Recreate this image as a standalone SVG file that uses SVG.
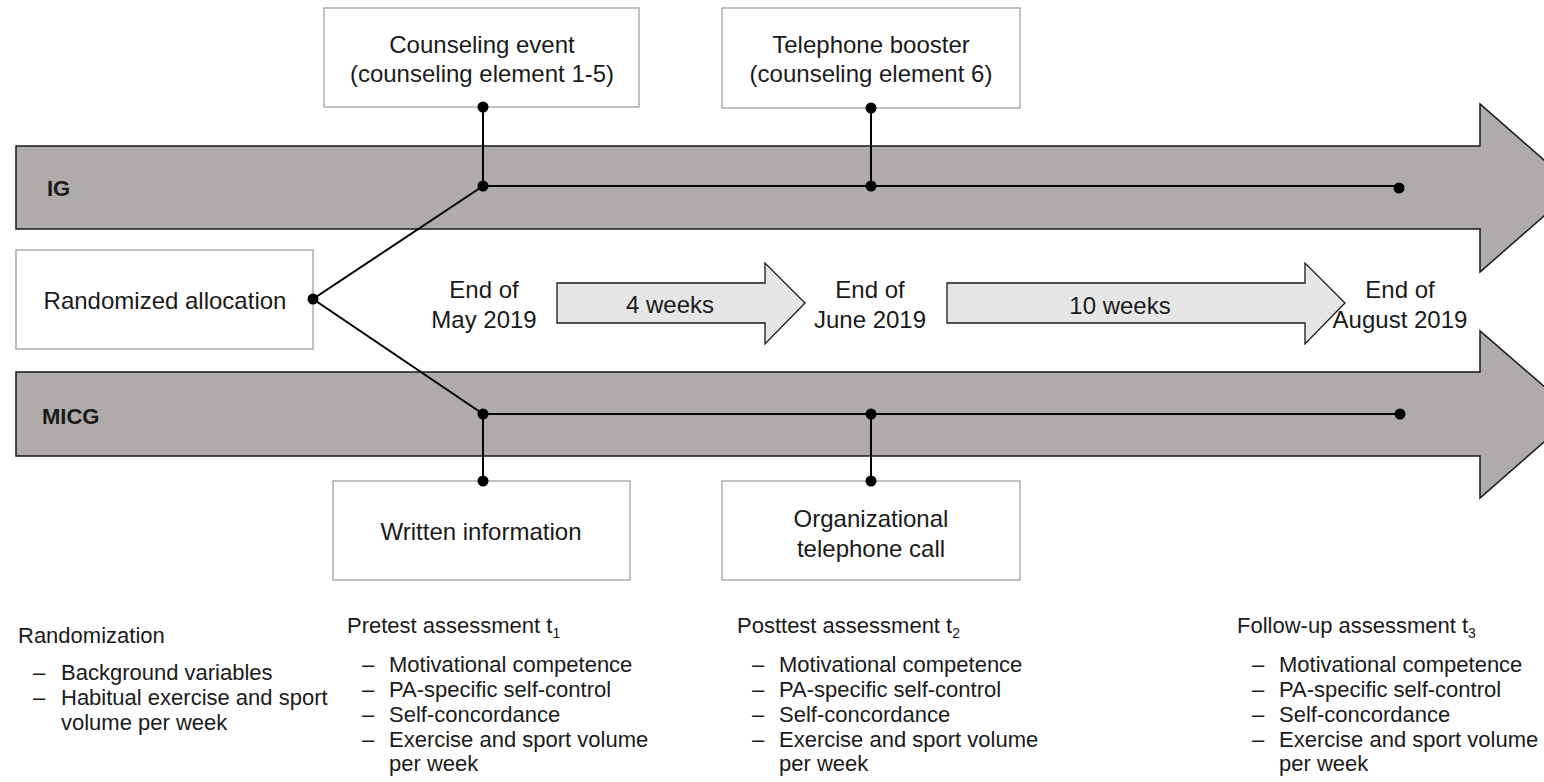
<svg xmlns="http://www.w3.org/2000/svg" width="1544" height="782" viewBox="0 0 1544 782">
<style>
.big{fill:#aeabaa;stroke:#1a1a1a;stroke-width:1.5}
.small{fill:#e6e6e6;stroke:#1a1a1a;stroke-width:1.3}
.box{fill:#fff;stroke:#a0a0a0;stroke-width:1.3}
.t{font-family:"Liberation Sans",Arial,sans-serif;font-size:24px;fill:#1a1a1a}
.c{text-anchor:middle}
.b{font-weight:bold;font-size:22px}
.s{font-family:"Liberation Sans",Arial,sans-serif;font-size:22px;fill:#1a1a1a}
.sub{font-size:14px}
.ln{stroke:#000;stroke-width:2;fill:none}
.dot{fill:#000}
</style>
<rect width="1544" height="782" fill="#fff"/>
<g id="ig-arrow">
<polygon class="big" points="16,146 1480,146 1480,104 1576,188 1480,272 1480,229 16,229"/>
<text class="t b" x="47" y="196">IG</text>
</g>
<g id="micg-arrow">
<polygon class="big" points="16,372 1480,372 1480,331 1576,414 1480,498 1480,456 16,456"/>
<text class="t b" x="42" y="424">MICG</text>
</g>
<g id="arrow-4weeks">
<polygon class="small" points="557,283 765,283 765,263 805,303 765,344 765,323 557,323"/>
<text class="t c" x="670" y="313">4 weeks</text>
</g>
<g id="arrow-10weeks">
<polygon class="small" points="947,283 1305,283 1305,263 1345,303 1305,344 1305,323 947,323"/>
<text class="t c" x="1120" y="314">10 weeks</text>
</g>
<g id="randomized">
<rect class="box" x="16" y="250" width="297" height="99"/>
<text class="t c" x="165" y="309">Randomized allocation</text>
</g>
<g id="counseling">
<rect class="box" x="324" y="8" width="315" height="99"/>
<text class="t c" x="482" y="53">Counseling event</text>
<text class="t c" x="482" y="82">(counseling element 1-5)</text>
</g>
<g id="booster">
<rect class="box" x="722" y="8" width="298" height="100"/>
<text class="t c" x="871" y="53">Telephone booster</text>
<text class="t c" x="871" y="82">(counseling element 6)</text>
</g>
<g id="written">
<rect class="box" x="333" y="481" width="297" height="99"/>
<text class="t c" x="481" y="540">Written information</text>
</g>
<g id="orgcall">
<rect class="box" x="722" y="481" width="298" height="99"/>
<text class="t c" x="871" y="527">Organizational</text>
<text class="t c" x="871" y="557">telephone call</text>
</g>
<g id="dates">
<text class="t c" x="484" y="298">End of</text>
<text class="t c" x="484" y="328">May 2019</text>
<text class="t c" x="870" y="298">End of</text>
<text class="t c" x="870" y="328">June 2019</text>
<text class="t c" x="1400" y="298">End of</text>
<text class="t c" x="1400" y="328">August 2019</text>
</g>
<g id="connectors">
<polyline class="ln" points="483,186 313,299 483,414"/>
<line class="ln" x1="483" y1="107" x2="483" y2="186"/>
<line class="ln" x1="871" y1="108" x2="871" y2="186"/>
<line class="ln" x1="483" y1="186" x2="1399" y2="186"/>
<line class="ln" x1="483" y1="414" x2="1400" y2="414"/>
<line class="ln" x1="483" y1="414" x2="483" y2="481"/>
<line class="ln" x1="871" y1="414" x2="871" y2="481"/>
<circle class="dot" cx="313" cy="299" r="5.5"/>
<circle class="dot" cx="483" cy="107" r="5.5"/>
<circle class="dot" cx="871" cy="108" r="5.5"/>
<circle class="dot" cx="483" cy="186" r="5.5"/>
<circle class="dot" cx="871" cy="186" r="5.5"/>
<circle class="dot" cx="1399" cy="188" r="5.5"/>
<circle class="dot" cx="483" cy="414" r="5.5"/>
<circle class="dot" cx="871" cy="414" r="5.5"/>
<circle class="dot" cx="1400" cy="414" r="5.5"/>
<circle class="dot" cx="483" cy="481" r="5.5"/>
<circle class="dot" cx="871" cy="481" r="5.5"/>
</g>
<g id="randomization-list">
<text class="s" x="18" y="643">Randomization</text>
<text class="s" x="33" y="680">–</text><text class="s" x="61" y="680">Background variables</text>
<text class="s" x="33" y="705">–</text><text class="s" x="61" y="705">Habitual exercise and sport</text>
<text class="s" x="61" y="730">volume per week</text>
</g>
<g id="pretest-list">
<text class="s" x="347" y="633">Pretest assessment t<tspan class="sub" dy="5">1</tspan></text>
<text class="s" x="362" y="672">–</text><text class="s" x="389" y="672">Motivational competence</text>
<text class="s" x="362" y="697">–</text><text class="s" x="389" y="697">PA-specific self-control</text>
<text class="s" x="362" y="722">–</text><text class="s" x="389" y="722">Self-concordance</text>
<text class="s" x="362" y="747">–</text><text class="s" x="389" y="747">Exercise and sport volume</text>
<text class="s" x="389" y="771">per week</text>
</g>
<g id="posttest-list">
<text class="s" x="737" y="633">Posttest assessment t<tspan class="sub" dy="5">2</tspan></text>
<text class="s" x="752" y="672">–</text><text class="s" x="779" y="672">Motivational competence</text>
<text class="s" x="752" y="697">–</text><text class="s" x="779" y="697">PA-specific self-control</text>
<text class="s" x="752" y="722">–</text><text class="s" x="779" y="722">Self-concordance</text>
<text class="s" x="752" y="747">–</text><text class="s" x="779" y="747">Exercise and sport volume</text>
<text class="s" x="779" y="771">per week</text>
</g>
<g id="followup-list">
<text class="s" x="1237" y="633">Follow-up assessment t<tspan class="sub" dy="5">3</tspan></text>
<text class="s" x="1252" y="672">–</text><text class="s" x="1279" y="672">Motivational competence</text>
<text class="s" x="1252" y="697">–</text><text class="s" x="1279" y="697">PA-specific self-control</text>
<text class="s" x="1252" y="722">–</text><text class="s" x="1279" y="722">Self-concordance</text>
<text class="s" x="1252" y="747">–</text><text class="s" x="1279" y="747">Exercise and sport volume</text>
<text class="s" x="1279" y="771">per week</text>
</g>
</svg>
